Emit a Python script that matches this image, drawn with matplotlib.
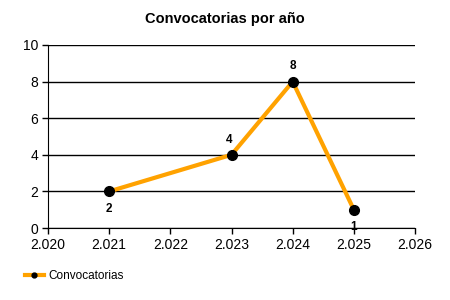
import matplotlib
matplotlib.use("Agg")
import matplotlib.pyplot as plt

years = [2.021, 2.023, 2.024, 2.025]
convocatorias = [2, 4, 8, 1]
xticks = [2.020, 2.021, 2.022, 2.023, 2.024, 2.025, 2.026]
xlabels = ["2.020", "2.021", "2.022", "2.023", "2.024", "2.025", "2.026"]
yticks = [0, 2, 4, 6, 8, 10]

plt.rcParams['font.family'] = ['Liberation Sans', 'DejaVu Sans']

fig = plt.figure(figsize=(4.5, 3), dpi=100)
ax = fig.add_axes([0.1067, 0.24, 0.8155, 0.61])

ax.plot(years, convocatorias, '-', color='#FFA200', linewidth=3, zorder=3,
        marker='o', markersize=7, markerfacecolor='black', markeredgecolor='black',
        label='Convocatorias')

# value labels
offsets = [(0, -12.5), (-1.5, 11), (0, 11.5), (0, -12.5)]
for x, y, (dx, dy) in zip(years, convocatorias, offsets):
    ax.annotate(str(y), (x, y), xytext=(dx, dy), textcoords='offset points',
                ha='center', va='center', fontsize=8.5, fontweight='bold', zorder=4)

ax.set_xlim(2.020, 2.026)
ax.set_ylim(0, 10)
ax.set_xticks(xticks)
ax.set_xticklabels(xlabels)
ax.set_yticks(yticks)
ax.tick_params(labelsize=10, length=4, width=1, color='black', direction='out', pad=3)
ax.grid(axis='y', color='black', linewidth=1)
ax.set_axisbelow(True)
for side in ['top', 'right']:
    ax.spines[side].set_visible(False)

fig.suptitle('Convocatorias por año', fontsize=10.5, fontweight='bold', y=0.96)

fig.legend(loc='lower left', bbox_to_anchor=(0.045, 0.045), frameon=False, fontsize=8.5,
           handlelength=1.6, handletextpad=0.4, markerscale=0.5, borderaxespad=0)

fig.savefig('out.png', dpi=100)
